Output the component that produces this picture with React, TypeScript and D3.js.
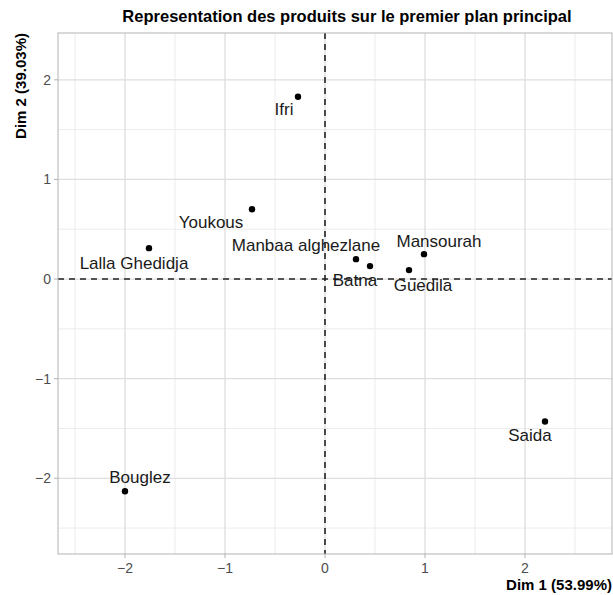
import React from "react";
import * as d3 from "d3";

const products = ["Ifri", "Youkous", "Lalla Ghedidja", "Manbaa alghezlane", "Batna", "Mansourah", "Guedila", "Saida", "Bouglez"];
const dim1 = [-0.27, -0.73, -1.76, 0.31, 0.45, 0.99, 0.84, 2.2, -2.0];
const dim2 = [1.83, 0.7, 0.31, 0.2, 0.13, 0.25, 0.09, -1.43, -2.13];
// label offsets from the point, in pixels (layout, like ggrepel placement)
const labelDx = [-14, -41, -15, -50, -15, 15, 14, -15, 15];
const labelDy = [13, 13, 15, -14, 14, -13, 15, 14, -14];

const xTicks = [-2, -1, 0, 1, 2];
const yTicks = [-2, -1, 0, 1, 2];
const xMinor = [-2.5, -1.5, -0.5, 0.5, 1.5, 2.5];
const yMinor = [-2.5, -1.5, -0.5, 0.5, 1.5];

const title = "Representation des produits sur le premier plan principal";
const xTitle = "Dim 1 (53.99%)";
const yTitle = "Dim 2 (39.03%)";

export default function App() {
  const W = 613, H = 595;
  const left = 58, right = 612, top = 33, bottom = 554;
  const x = d3.scaleLinear().domain([-2.67, 2.87]).range([left, right]);
  const y = d3.scaleLinear().domain([-2.76, 2.47]).range([bottom, top]);
  const font = "'Liberation Sans', Arial, sans-serif";

  return (
    <svg width={W} height={H} style={{ position: "absolute", left: 0, top: 0, background: "#fff" }} fontFamily={font}>
      <rect x={0} y={0} width={W} height={H} fill="#fff" />
      {xMinor.map((v) => (
        <line key={"xm" + v} x1={x(v)} x2={x(v)} y1={top} y2={bottom} stroke="#ececec" strokeWidth={1} />
      ))}
      {yMinor.map((v) => (
        <line key={"ym" + v} x1={left} x2={right} y1={y(v)} y2={y(v)} stroke="#ececec" strokeWidth={1} />
      ))}
      {xTicks.map((v) => (
        <line key={"xg" + v} x1={x(v)} x2={x(v)} y1={top} y2={bottom} stroke="#dedede" strokeWidth={1.3} />
      ))}
      {yTicks.map((v) => (
        <line key={"yg" + v} x1={left} x2={right} y1={y(v)} y2={y(v)} stroke="#dedede" strokeWidth={1.3} />
      ))}
      <line x1={x(0)} x2={x(0)} y1={top} y2={bottom} stroke="#222" strokeWidth={1.6} strokeDasharray="6,5" />
      <line x1={left} x2={right} y1={y(0)} y2={y(0)} stroke="#222" strokeWidth={1.6} strokeDasharray="6,5" />
      {products.map((p, i) => (
        <circle key={"pt" + p} cx={x(dim1[i])} cy={y(dim2[i])} r={3.2} fill="#000" />
      ))}
      {products.map((p, i) => (
        <text key={"lb" + p} x={x(dim1[i]) + labelDx[i]} y={y(dim2[i]) + labelDy[i]} textAnchor="middle" dominantBaseline="central" fontSize={17} fill="#1a1a1a">
          {p}
        </text>
      ))}
      <rect x={left} y={top} width={right - left} height={bottom - top} fill="none" stroke="#b3b3b3" strokeWidth={1} />
      {xTicks.map((v) => (
        <g key={"xt" + v}>
          <line x1={x(v)} x2={x(v)} y1={bottom} y2={bottom + 4} stroke="#b3b3b3" />
          <text x={x(v)} y={bottom + 14} textAnchor="middle" dominantBaseline="central" fontSize={14} fill="#4d4d4d">
            {v < 0 ? "\u2212" + Math.abs(v) : String(v)}
          </text>
        </g>
      ))}
      {yTicks.map((v) => (
        <g key={"yt" + v}>
          <line x1={left - 4} x2={left} y1={y(v)} y2={y(v)} stroke="#b3b3b3" />
          <text x={left - 7} y={y(v)} textAnchor="end" dominantBaseline="central" fontSize={14} fill="#4d4d4d">
            {v < 0 ? "\u2212" + Math.abs(v) : String(v)}
          </text>
        </g>
      ))}
      <text x={347} y={16} textAnchor="middle" dominantBaseline="central" fontSize={16.5} fontWeight="bold" fill="#000">
        {title}
      </text>
      <text x={right} y={584} textAnchor="end" dominantBaseline="central" fontSize={15} fontWeight="bold" fill="#000">
        {xTitle}
      </text>
      <text transform={`translate(20, ${top}) rotate(-90)`} textAnchor="end" dominantBaseline="central" fontSize={15} fontWeight="bold" fill="#000">
        {yTitle}
      </text>
    </svg>
  );
}
